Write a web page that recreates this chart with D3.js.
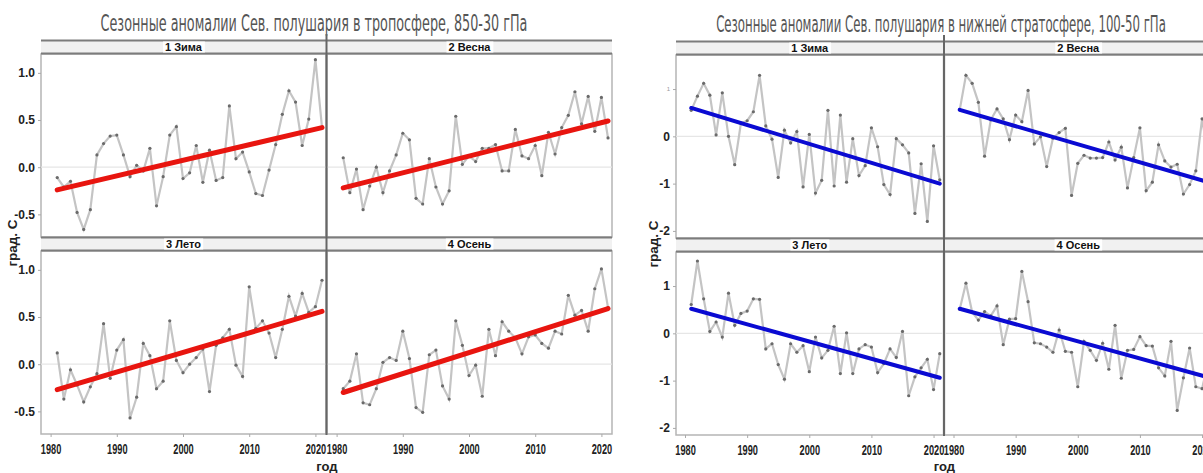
<!DOCTYPE html>
<html><head><meta charset="utf-8">
<script src="https://cdn.jsdelivr.net/npm/d3@7"></script>
<style>body{margin:0;background:#fff;} svg{display:block;}</style>
</head><body><svg id="c" width="1203" height="473"></svg>
<script>
const years = [1981,1982,1983,1984,1985,1986,1987,1988,1989,1990,1991,1992,1993,1994,1995,1996,1997,1998,1999,2000,2001,2002,2003,2004,2005,2006,2007,2008,2009,2010,2011,2012,2013,2014,2015,2016,2017,2018,2019,2020,2021];
const seasons = ["1 Зима","2 Весна","3 Лето","4 Осень"];

// Troposphere 850-30 hPa
const tropoWinter = [-0.11,-0.21,-0.15,-0.48,-0.66,-0.45,0.13,0.25,0.33,0.34,0.13,-0.10,0.02,-0.04,0.20,-0.41,-0.10,0.34,0.43,-0.12,-0.06,0.23,-0.16,0.18,-0.14,-0.11,0.65,0.09,0.16,-0.05,-0.28,-0.30,-0.03,0.24,0.56,0.81,0.69,0.23,0.51,1.14,0.42];
const tropoSpring = [0.10,-0.27,-0.02,-0.45,-0.20,0.00,-0.27,-0.04,0.13,0.36,0.29,-0.33,-0.39,0.09,-0.21,-0.39,-0.25,0.54,0.03,0.12,0.06,0.20,0.20,0.24,-0.04,-0.04,0.40,0.12,0.09,0.23,-0.09,0.37,0.14,0.42,0.55,0.80,0.46,0.75,0.38,0.74,0.31];
const tropoSummer = [0.12,-0.37,-0.06,-0.22,-0.40,-0.24,-0.10,0.43,-0.15,0.15,0.26,-0.57,-0.35,0.22,0.09,-0.26,-0.18,0.46,0.04,-0.09,0.00,0.07,0.16,-0.29,0.20,0.28,0.37,-0.01,-0.13,0.82,0.38,0.46,0.33,0.07,0.37,0.72,0.51,0.75,0.55,0.61,0.89];
const tropoAutumn = [-0.26,-0.18,0.11,-0.41,-0.43,-0.26,0.02,0.07,0.04,0.35,0.06,-0.46,-0.51,0.10,0.15,-0.23,-0.37,0.46,0.20,-0.12,-0.01,-0.34,0.37,0.09,0.45,0.35,0.28,0.11,0.29,0.31,0.22,0.17,0.35,0.32,0.73,0.52,0.57,0.35,0.80,1.01,0.60];
const tropoTrendStart = [-0.24,-0.22,-0.27,-0.30];
const tropoTrendEnd = [0.42,0.49,0.56,0.59];
const tropoYTicks = [-0.5,0,0.5,1.0];

// Lower stratosphere 100-50 hPa
const stratoWinter = [0.55,0.85,1.12,0.87,0.03,0.92,0.00,-0.60,0.28,0.33,0.52,1.29,0.22,-0.06,-0.87,0.13,-0.14,0.10,-1.07,0.04,-1.20,-0.93,0.55,-1.05,0.45,-0.97,-0.05,-0.83,-0.62,0.18,-0.22,-1.02,-1.23,-0.05,-0.18,-0.35,-1.63,-0.58,-1.80,-0.20,-0.92];
const stratoSpring = [0.56,1.29,1.12,0.72,-0.42,0.35,0.58,0.37,-0.07,0.45,0.31,0.97,-0.16,-0.01,-0.64,-0.04,0.08,0.17,-1.25,-0.57,-0.40,-0.46,-0.46,-0.45,-0.12,-0.50,-0.23,-1.09,-0.45,0.18,-1.15,-0.97,-0.18,-0.52,-0.65,-0.59,-1.22,-1.02,-0.73,0.37,-0.40];
const stratoSummer = [0.61,1.53,0.73,0.04,0.24,-0.08,0.85,0.17,0.42,0.47,0.73,0.72,-0.33,-0.22,-0.66,-0.97,-0.22,-0.40,-0.26,-0.81,-0.08,-0.52,-0.36,0.15,-0.85,0.01,-0.85,-0.33,-0.24,-0.29,-0.83,-0.64,-0.33,-0.51,0.04,-1.32,-0.92,-0.73,-0.55,-1.19,-0.43];
const stratoAutumn = [0.51,1.06,0.45,0.28,0.46,0.37,0.58,-0.24,0.30,0.31,1.31,0.67,-0.20,-0.22,-0.29,-0.40,0.07,-0.38,-0.40,-1.13,-0.17,-0.36,-0.57,-0.21,-0.76,0.17,-0.95,-0.36,-0.34,-0.07,-0.26,-0.27,-0.73,-0.90,-0.17,-1.63,-0.94,-0.31,-1.13,-1.17,-0.60];
const stratoTrendStart = [0.60,0.56,0.52,0.52];
const stratoTrendEnd = [-1.00,-0.97,-0.94,-0.93];
const stratoYTicks = [-2,-1,0,1];

const xTicks = [1980,1990,2000,2010,2020];

const svg = d3.select("#c");
const FONT = "'Liberation Sans', Arial, sans-serif";
const NARROW = "'Liberation Sans Narrow', 'DejaVu Sans Condensed', 'Liberation Sans', sans-serif";

function squeezedText(parent, cx, y, str, size, targetW, attrs) {
  const t = parent.append("text").attr("text-anchor", "middle").attr("font-size", size).text(str);
  Object.entries(attrs).forEach(([k, v]) => t.attr(k, v));
  const w = t.node().getComputedTextLength();
  const sx = Math.min(1, targetW / w);
  t.attr("transform", `translate(${cx},${y}) scale(${sx},1)`);
  return t;
}

function drawChart(cfg) {
  const g = svg.append("g");
  const stripH = 14, rowH = 197, panelH = rowH - stripH;
  const W = cfg.facetW;
  squeezedText(g, cfg.titleX, cfg.top - 9, cfg.title, 23, cfg.titleW,
    {"font-family": NARROW, "fill": "#555"});

  const series = cfg.series;
  for (let i = 0; i < 4; i++) {
    const col = i % 2, row = Math.floor(i / 2);
    const fx = cfg.left + col * (W + 1);
    const rowTop = cfg.top + row * rowH;
    const pTop = rowTop + stripH, pBot = rowTop + rowH;
    const x = d3.scaleLinear().domain([1978.55, 2021.6]).range([fx, fx + W]);
    const y = d3.scaleLinear().domain(cfg.yDomain).range([pBot, pTop]);
    const fg = g.append("g");
    fg.append("rect").attr("x", fx).attr("y", pTop).attr("width", W).attr("height", panelH)
      .attr("fill", "#fff").attr("stroke", "#b5b5b5").attr("stroke-width", 1.5);
    fg.append("line").attr("x1", fx).attr("x2", fx + W).attr("y1", y(0)).attr("y2", y(0))
      .attr("stroke", "#e6e6e6").attr("stroke-width", 1.2);
    fg.append("rect").attr("x", fx).attr("y", rowTop).attr("width", W).attr("height", stripH)
      .attr("fill", "#f1f1f1");
    fg.append("line").attr("x1", fx).attr("x2", fx + W).attr("y1", rowTop + 0.5).attr("y2", rowTop + 0.5)
      .attr("stroke", "#7c7c7c").attr("stroke-width", 2);
    fg.append("line").attr("x1", fx).attr("x2", fx + W).attr("y1", pTop - 0.5).attr("y2", pTop - 0.5)
      .attr("stroke", "#7c7c7c").attr("stroke-width", 2.2);
    const lab = fg.append("text").attr("x", fx + W / 2).attr("y", rowTop + 11)
      .attr("text-anchor", "middle").attr("font-family", FONT).attr("font-weight", "bold")
      .attr("font-size", 11).attr("fill", "#111").text(seasons[i]);
    const bb = lab.node().getBBox();
    fg.insert("rect", "text").attr("x", bb.x - 2).attr("y", rowTop + 1.5).attr("width", bb.width + 4)
      .attr("height", stripH - 3).attr("fill", "#fff");
    const data = years.map((yr, k) => ({yr, v: series[i][k]}));
    fg.append("path").datum(data)
      .attr("d", d3.line().x(d => x(d.yr)).y(d => y(d.v)))
      .attr("fill", "none").attr("stroke", "#c4c4c4").attr("stroke-width", 2.2);
    fg.selectAll("circle").data(data).enter().append("circle")
      .attr("cx", d => x(d.yr)).attr("cy", d => y(d.v)).attr("r", 1.6).attr("fill", "#6a6a6a");
    fg.append("line").attr("x1", x(years[0])).attr("x2", x(years[years.length - 1]))
      .attr("y1", y(cfg.trendStart[i])).attr("y2", y(cfg.trendEnd[i]))
      .attr("stroke", cfg.trendColor).attr("stroke-width", cfg.trendW).attr("stroke-linecap", "round");
    if (col === 0) {
      const ya = fg.append("g").attr("transform", `translate(${fx},0)`)
        .call(d3.axisLeft(y).tickValues(cfg.yTicks).tickSize(3).tickPadding(3).tickFormat(cfg.yFmt));
      ya.select(".domain").remove();
      ya.selectAll("line").attr("stroke", "#aaa");
      ya.selectAll("text").attr("font-family", FONT).attr("font-weight", "bold")
        .attr("font-size", 12).attr("fill", "#222");
      if (cfg.tinyTop && row === 0) {
        ya.selectAll(".tick").filter(d => d === cfg.tinyTop).select("text")
          .attr("font-size", 6).attr("font-weight", "normal").attr("fill", "#999");
      }
    }
    if (row === 1) {
      const xa = fg.append("g").attr("transform", `translate(0,${pBot})`)
        .call(d3.axisBottom(x).tickValues(xTicks).tickSize(3).tickPadding(6).tickFormat(d3.format("d")));
      xa.select(".domain").remove();
      xa.selectAll("line").attr("stroke", "#aaa");
      xa.selectAll("text").attr("font-family", FONT).attr("font-weight", "bold")
        .attr("font-size", 15.5).attr("fill", "#222")
        .each(function () {
          const w = this.getComputedTextLength();
          d3.select(this).attr("transform", `scale(${20.5 / w},1)`);
        });
    }
  }
  g.append("line").attr("x1", cfg.left + W + 0.5).attr("x2", cfg.left + W + 0.5)
    .attr("y1", cfg.top - 6).attr("y2", cfg.top + 2 * rowH + 1)
    .attr("stroke", "#666").attr("stroke-width", 2);
  g.append("text").attr("transform", `translate(${cfg.ylabX},${cfg.top + 203}) rotate(-90)`)
    .attr("text-anchor", "middle").attr("font-family", FONT).attr("font-weight", "bold")
    .attr("font-size", 13.5).attr("fill", "#222").text("град. C");
  g.append("text").attr("x", cfg.left + W + 1).attr("y", 471)
    .attr("text-anchor", "middle").attr("font-family", FONT).attr("font-weight", "bold")
    .attr("font-size", 13).attr("fill", "#222").text("год");
}

drawChart({
  title: "Сезонные аномалии Сев. полушария в тропосфере, 850-30 гПа",
  titleX: 314, titleW: 427, left: 41, facetW: 285, top: 40,
  yDomain: [-0.74, 1.2], yTicks: tropoYTicks, yFmt: d => d.toFixed(1),
  series: [tropoWinter, tropoSpring, tropoSummer, tropoAutumn],
  trendStart: tropoTrendStart, trendEnd: tropoTrendEnd,
  trendColor: "#e8150f", trendW: 5, ylabX: 17
});
drawChart({
  title: "Сезонные аномалии Сев. полушария в нижней стратосфере, 100-50 гПа",
  titleX: 941, titleW: 450, left: 676, facetW: 267.5, top: 41,
  yDomain: [-2.15, 1.72], yTicks: stratoYTicks, yFmt: d => String(d), tinyTop: 1,
  series: [stratoWinter, stratoSpring, stratoSummer, stratoAutumn],
  trendStart: stratoTrendStart, trendEnd: stratoTrendEnd,
  trendColor: "#0a0ad2", trendW: 4, ylabX: 658
});
</script></body></html>
